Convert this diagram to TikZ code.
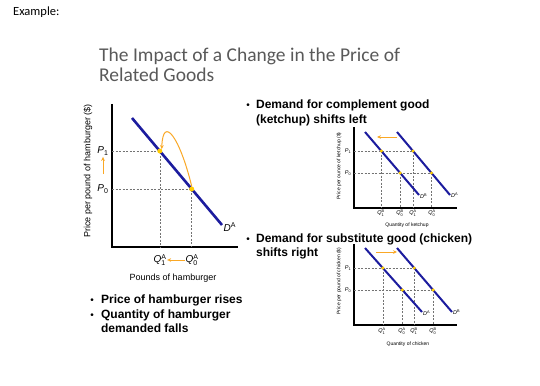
\documentclass[tikz,border=0pt]{standalone}
\usepackage{fontspec}
\usepackage{amsmath}
\setmainfont{Liberation Sans}
\newfontfamily\calibri{Carlito}
\usetikzlibrary{arrows.meta,positioning}

\definecolor{demandblue}{RGB}{28,28,158}
\definecolor{shiftorange}{RGB}{250,168,38}
\definecolor{pointyellow}{RGB}{255,204,0}
\definecolor{titlegrey}{RGB}{89,89,89}

% two-line text whose baseline is its first line
\newcommand{\toplines}[2]{\begin{tabular}[t]{@{}l@{}}#1\\#2\end{tabular}}

\begin{document}
\begin{tikzpicture}[x=1pt, y=-1pt,
    axis/.style={line width=1.8pt},
    smallaxis/.style={line width=1.2pt},
    demand/.style={draw=demandblue, line width=2.6pt},
    smalldemand/.style={draw=demandblue, line width=2pt},
    guide/.style={dash pattern=on 2pt off 1.5pt, draw=black!55, line width=0.5pt},
    shiftarrow/.style={-{Stealth[length=4pt,width=3.6pt]}, draw=shiftorange, line width=1pt},
    dot/.style={circle, fill=pointyellow, inner sep=0pt, minimum size=5pt},
    smalldot/.style={circle, fill=pointyellow, inner sep=0pt, minimum size=3.4pt},
    title/.style={font=\calibri\fontsize{19.5}{20}\selectfont, text=titlegrey, anchor=base west, inner sep=0pt},
    bullet/.style={font=\fontsize{10}{14}\selectfont, anchor=base, inner sep=0pt},
    item/.style={font=\bfseries\fontsize{12}{14}\selectfont, inner sep=0pt},
    axlabel/.style={font=\fontsize{9}{10}\selectfont, inner sep=0pt},
    tinylabel/.style={font=\fontsize{5}{6}\selectfont, inner sep=0pt},
    curvelabel/.style={font=\fontsize{10}{11}\selectfont, inner sep=0.5pt},
    smallcurvelabel/.style={font=\fontsize{5.5}{6}\selectfont, inner sep=0pt}
]
\useasboundingbox[fill=white] (0,0) rectangle (540,385);

% Heading
\node[anchor=base west, inner sep=0pt, font=\calibri\fontsize{12.5}{15}\selectfont] (example) at (13,16) {Example:};
\node[title] (title) at (99,62) {\toplines{The Impact of a Change in the Price of}{Related Goods}};

% Hamburger market - axes
\coordinate (origin) at (112,247);
\coordinate (ytop) at (112,104);
\coordinate (xend) at (238,247);
\draw[axis] (ytop) -- (origin) -- (xend);

% Hamburger market - demand and equilibrium points
\coordinate (dA-start) at (132,118);
\coordinate (dA-end) at (222,225);
\coordinate (p1) at (159.8,151);
\coordinate (p0) at (191.7,189);
\draw[guide] (origin |- p1) -- (p1) -- (p1 |- origin);
\draw[guide] (origin |- p0) -- (p0) -- (p0 |- origin);
\draw[demand] (dA-start) -- (dA-end);
\node[dot] (p1dot) at (p1) {};
\node[dot] (p0dot) at (p0) {};

% Hamburger market - labels
\node[curvelabel, anchor=west] (dA-label) at (223,227) {\textit{D}$^{\text{A}}$};
\node[curvelabel] (p1lab) at (103,151) {\textit{P}$_{\text{1}}$};
\node[curvelabel] (p0lab) at (103,189) {\textit{P}$_{\text{0}}$};
\node[curvelabel] (q1lab) at (160,260) {\textit{Q}$^{\text{A}}_{\text{1}}$};
\node[curvelabel] (q0lab) at (192,260) {\textit{Q}$^{\text{A}}_{\text{0}}$};
\node[axlabel, rotate=90] (ylab) at (88,171) {Price per pound of hamburger (\$)};
\node[axlabel] (xlab) at (173,278) {Pounds of hamburger};

% Hamburger market - movement along the curve
\draw[shiftarrow, shorten <=10pt, shorten >=1pt] (p0lab.north) -- (p1lab.south);
\draw[shiftarrow] (q0lab.west) -- (q1lab.east);
\draw[shiftarrow] (p0dot.north) .. controls (180,138) and (163,114) .. (p1dot.north east);

% Bullets - hamburger
\node[bullet] (b-price) at (92,303) {\textbullet};
\node[item, right=7pt of b-price.base east, anchor=base west] (t-price) {Price of hamburger rises};
\node[bullet] (b-quantity) at (92,318) {\textbullet};
\node[item, right=7pt of b-quantity.base east, anchor=base west] (t-quantity) {\toplines{Quantity of hamburger}{demanded falls}};

% Bullets - related goods
\node[bullet] (b-complement) at (248,109) {\textbullet};
\node[item, right=6pt of b-complement.base east, anchor=base west] (t-complement) {\toplines{Demand for complement good}{(ketchup) shifts left}};
\node[bullet] (b-substitute) at (248,242) {\textbullet};
\node[item, right=6pt of b-substitute.base east, anchor=base west] (t-substitute) {\toplines{Demand for substitute good (chicken)}{shifts right}};

% Ketchup market - axes
\coordinate (k-origin) at (354,208);
\coordinate (k-ytop) at (354,127);
\coordinate (k-xend) at (457,208);
\draw[smallaxis] (k-ytop) -- (k-origin) -- (k-xend);

% Ketchup market - demand curves
\coordinate (kB-start) at (365,132);
\coordinate (kB-end) at (419,195);
\coordinate (kA-start) at (397,132);
\coordinate (kA-end) at (450,195);
\coordinate (kB1) at (381.3,151);
\coordinate (kB0) at (400.1,173);
\coordinate (kA1) at (413,151);
\coordinate (kA0) at (431.5,173);
\draw[guide] (k-origin |- kA1) -- (kA1);
\draw[guide] (k-origin |- kA0) -- (kA0);
\foreach \pt in {kB1,kB0,kA1,kA0}
  \draw[guide] (\pt) -- (\pt |- k-origin);
\draw[smalldemand] (kB-start) -- (kB-end);
\draw[smalldemand] (kA-start) -- (kA-end);
\foreach \pt in {kB1,kB0,kA1,kA0}
  \node[smalldot] (\pt-dot) at (\pt) {};

% Ketchup market - labels
\node[smallcurvelabel, anchor=west] (kB-label) at (420,196) {\textit{D}$^{\text{B}}$};
\node[smallcurvelabel, anchor=west] (kA-label) at (451,195) {\textit{D}$^{\text{A}}$};
\node[smallcurvelabel] (kp1lab) at (348,151) {\textit{P}$_{\text{1}}$};
\node[smallcurvelabel] (kp0lab) at (348,173) {\textit{P}$_{\text{0}}$};
\node[smallcurvelabel] (kqB1lab) at (381,213) {\textit{Q}$^{\text{B}}_{\text{1}}$};
\node[smallcurvelabel] (kqB0lab) at (400,213) {\textit{Q}$^{\text{B}}_{\text{0}}$};
\node[smallcurvelabel] (kqA1lab) at (413,213) {\textit{Q}$^{\text{A}}_{\text{1}}$};
\node[smallcurvelabel] (kqA0lab) at (432,213) {\textit{Q}$^{\text{A}}_{\text{0}}$};
\node[tinylabel, rotate=90] (kylab) at (339,166) {Price per ounce of ketchup (\$)};
\node[tinylabel] (kxlab) at (407,225) {Quantity of ketchup};

% Ketchup market - shift left
\coordinate (k-shift-from) at (397,137);
\coordinate (k-shift-to) at (377,137);
\draw[shiftarrow] (k-shift-from) -- (k-shift-to);

% Chicken market - axes
\coordinate (c-origin) at (354,325);
\coordinate (c-ytop) at (354,244);
\coordinate (c-xend) at (457,325);
\draw[smallaxis] (c-ytop) -- (c-origin) -- (c-xend);

% Chicken market - demand curves
\coordinate (cA-start) at (365,248);
\coordinate (cA-end) at (422,312);
\coordinate (cB-start) at (397,248);
\coordinate (cB-end) at (452,312);
\coordinate (cA1) at (382.8,268);
\coordinate (cA0) at (402.4,290);
\coordinate (cB1) at (414.2,268);
\coordinate (cB0) at (433.1,290);
\draw[guide] (c-origin |- cB1) -- (cB1);
\draw[guide] (c-origin |- cB0) -- (cB0);
\foreach \pt in {cA1,cA0,cB1,cB0}
  \draw[guide] (\pt) -- (\pt |- c-origin);
\draw[smalldemand] (cA-start) -- (cA-end);
\draw[smalldemand] (cB-start) -- (cB-end);
\foreach \pt in {cA1,cA0,cB1,cB0}
  \node[smalldot] (\pt-dot) at (\pt) {};

% Chicken market - labels
\node[smallcurvelabel, anchor=west] (cA-label) at (423,313) {\textit{D}$^{\text{A}}$};
\node[smallcurvelabel, anchor=west] (cB-label) at (453,312) {\textit{D}$^{\text{B}}$};
\node[smallcurvelabel] (cp1lab) at (348,268) {\textit{P}$_{\text{1}}$};
\node[smallcurvelabel] (cp0lab) at (348,290) {\textit{P}$_{\text{0}}$};
\node[smallcurvelabel] (cqA1lab) at (382,331) {\textit{Q}$^{\text{A}}_{\text{1}}$};
\node[smallcurvelabel] (cqA0lab) at (402,331) {\textit{Q}$^{\text{A}}_{\text{0}}$};
\node[smallcurvelabel] (cqB1lab) at (414,331) {\textit{Q}$^{\text{B}}_{\text{1}}$};
\node[smallcurvelabel] (cqB0lab) at (433,331) {\textit{Q}$^{\text{B}}_{\text{0}}$};
\node[tinylabel, rotate=90] (cylab) at (339,281) {Price per pound of chicken (\$)};
\node[tinylabel] (cxlab) at (408,344) {Quantity of chicken};

% Chicken market - shift right
\coordinate (c-shift-from) at (376,252);
\coordinate (c-shift-to) at (397,252);
\draw[shiftarrow] (c-shift-from) -- (c-shift-to);

\end{tikzpicture}
\end{document}
